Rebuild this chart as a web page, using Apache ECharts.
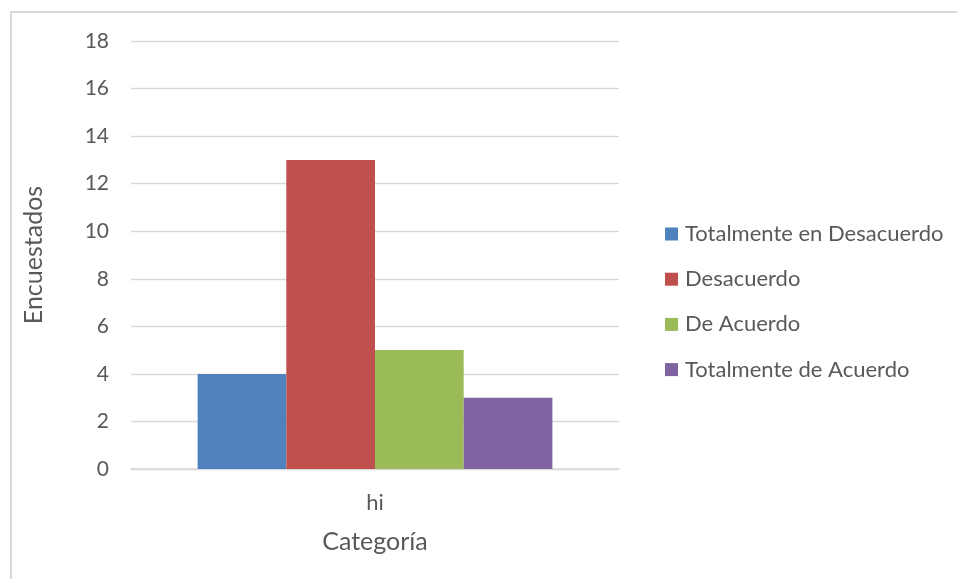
<!DOCTYPE html>
<html>
<head>
<meta charset="utf-8">
<script src="https://cdn.jsdelivr.net/npm/echarts@6/dist/echarts.min.js"></script>
<style>
html,body{margin:0;padding:0;background:#fff;}
#frame{position:absolute;left:10px;top:11px;width:1200px;height:1000px;border:2px solid #d9d9d9;box-sizing:border-box;}
#chart{position:absolute;left:0;top:0;width:957px;height:579px;}
</style>
</head>
<body>
<div id="frame"></div>
<div id="chart"></div>
<script>
const categories = ['hi'];
const seriesNames = ['Totalmente en Desacuerdo', 'Desacuerdo', 'De Acuerdo', 'Totalmente de Acuerdo'];
const totalmenteDesacuerdo = [4];
const desacuerdo = [13];
const deAcuerdo = [5];
const totalmenteAcuerdo = [3];
const colors = ['#4f81bd', '#c0504d', '#9bbb59', '#8064a2'];
const yTicks = { min: 0, max: 18, interval: 2 };

const FONT = 'Lato';
const TXT = '#595959';
const values = [totalmenteDesacuerdo, desacuerdo, deAcuerdo, totalmenteAcuerdo];

const chart = echarts.init(document.getElementById('chart'), null, { renderer: 'canvas' });
chart.setOption({
  animation: false,
  backgroundColor: 'transparent',
  textStyle: { fontFamily: FONT },
  grid: { left: 131, right: 338, top: 41, bottom: 110, containLabel: false },
  legend: {
    orient: 'vertical',
    left: 660,
    top: 218,
    itemWidth: 13,
    itemHeight: 13,
    itemGap: 23.2,
    icon: 'rect',
    data: seriesNames,
    textStyle: { fontFamily: FONT, fontSize: 22, color: TXT, lineHeight: 22, padding: [0, 0, 0, 2] }
  },
  xAxis: {
    type: 'category',
    data: categories,
    name: 'Categoría',
    nameLocation: 'middle',
    nameGap: 60,
    nameTextStyle: { fontFamily: FONT, fontSize: 25, color: TXT },
    axisLine: { show: true, lineStyle: { color: '#d9d9d9', width: 1.5 } },
    axisTick: { show: false },
    axisLabel: { margin: 23, fontFamily: FONT, fontSize: 22, color: TXT }
  },
  yAxis: {
    type: 'value',
    min: yTicks.min,
    max: yTicks.max,
    interval: yTicks.interval,
    name: 'Encuestados',
    nameLocation: 'middle',
    nameGap: 85,
    nameTextStyle: { fontFamily: FONT, fontSize: 25, color: TXT },
    axisLine: { show: false },
    axisTick: { show: false },
    axisLabel: { margin: 22, fontFamily: FONT, fontSize: 21, color: TXT },
    splitLine: { show: true, lineStyle: { color: '#d9d9d9', width: 1.3 } }
  },
  series: seriesNames.map((n, i) => ({
    name: n,
    type: 'bar',
    data: values[i],
    itemStyle: { color: colors[i] },
    barGap: '0%',
    barCategoryGap: '27.3%'
  }))
});
</script>
</body>
</html>
